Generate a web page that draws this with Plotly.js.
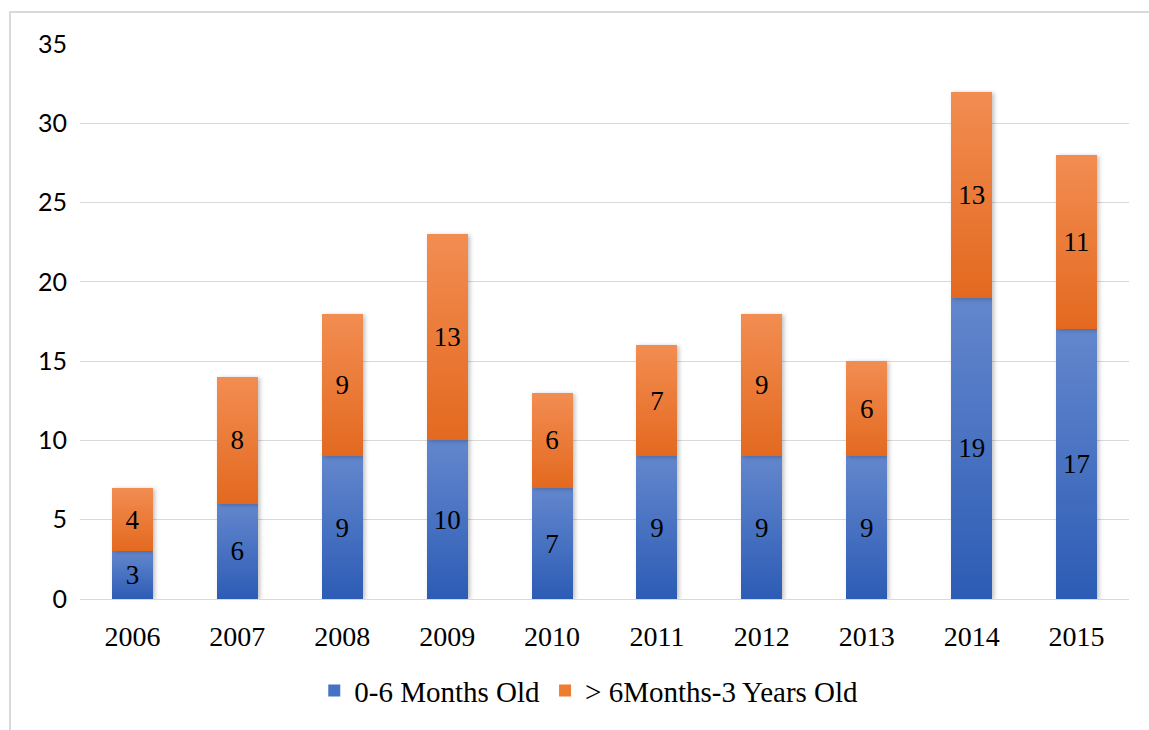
<!DOCTYPE html>
<html>
<head>
<meta charset="utf-8">
<script src="https://cdn.plot.ly/plotly-3.0.1.min.js"></script>
<style>
  html, body { margin: 0; padding: 0; background: #fff; }
  #wrap { position: relative; width: 1149px; height: 730px; }
  #chart { position: absolute; left: 0; top: 0; width: 1149px; height: 730px; }
  #frame { position: absolute; left: 9px; top: 11px; width: 1140px; height: 719px;
           border-left: 2px solid #d9d9d9; border-top: 2px solid #d9d9d9; box-sizing: border-box; pointer-events: none; }
</style>
</head>
<body>
<div id="wrap">
  <div id="chart"></div>
  <div id="frame"></div>
</div>
<script>
const years = ['2006','2007','2008','2009','2010','2011','2012','2013','2014','2015'];
const young = [3, 6, 9, 10, 7, 9, 9, 9, 19, 17];
const older = [4, 8, 9, 13, 6, 7, 9, 6, 13, 11];
const seriesNames = ['0-6 Months Old', '> 6Months-3 Years Old'];
const yTicks = [0, 5, 10, 15, 20, 25, 30, 35];

const serif = 'Liberation Serif, Times New Roman, serif';
const sans = 'Lato, Carlito, Calibri, sans-serif';

const traces = [
  {
    type: 'bar', name: seriesNames[0], x: years, y: young,
    marker: { color: '#4472C4' },
    text: young.map(String), textposition: 'inside', insidetextanchor: 'middle',
    textfont: { family: serif, size: 27, color: '#000' },
    hoverinfo: 'x+y'
  },
  {
    type: 'bar', name: seriesNames[1], x: years, y: older,
    marker: { color: '#ED7D31' },
    text: older.map(String), textposition: 'inside', insidetextanchor: 'middle',
    textfont: { family: serif, size: 27, color: '#000' },
    hoverinfo: 'x+y'
  }
];

const layout = {
  width: 1149, height: 730,
  margin: { l: 80, r: 20, t: 44, b: 131 },
  paper_bgcolor: 'rgba(0,0,0,0)', plot_bgcolor: '#fff',
  barmode: 'stack', bargap: 0.61,
  showlegend: true,
  legend: { orientation: 'h', x: 0.485, xanchor: 'center', y: -0.165, yanchor: 'middle',
            font: { family: serif, size: 29, color: '#000' }, itemwidth: 30, traceorder: 'normal' },
  xaxis: { type: 'category', tickfont: { family: serif, size: 28, color: '#000' },
           showgrid: false, showline: true, linecolor: '#d9d9d9', linewidth: 1, ticks: '',
           ticklabelstandoff: 12 },
  yaxis: { range: [0, 35], tickvals: yTicks, ticktext: yTicks.map(String),
           tickfont: { family: sans, size: 25, color: '#000' },
           showgrid: true, gridcolor: '#d9d9d9', gridwidth: 1, zeroline: false,
           showline: false, ticks: '', ticklabelstandoff: 12 },
  uniformtext: { mode: false }
};

Plotly.newPlot('chart', traces, layout, { staticPlot: true }).then(function (gd) {
  const svg = gd.querySelector('svg.main-svg');
  let defs = svg.querySelector('defs');
  const NS = 'http://www.w3.org/2000/svg';
  function grad(id, top, bot) {
    const g = document.createElementNS(NS, 'linearGradient');
    g.setAttribute('id', id);
    g.setAttribute('x1', '0'); g.setAttribute('y1', '0');
    g.setAttribute('x2', '0'); g.setAttribute('y2', '1');
    [[0, top], [1, bot]].forEach(function (s) {
      const st = document.createElementNS(NS, 'stop');
      st.setAttribute('offset', s[0]);
      st.setAttribute('stop-color', s[1]);
      g.appendChild(st);
    });
    defs.appendChild(g);
  }
  grad('gBlue', '#6387cd', '#2d5cb5');
  grad('gOrange', '#f28d52', '#e3691f');
  const tr = gd.querySelectorAll('.barlayer .trace.bars');
  const ids = ['gBlue', 'gOrange'];
  tr.forEach(function (t, i) {
    t.querySelectorAll('.point path').forEach(function (p) {
      p.style.fill = 'url(#' + ids[i] + ')';
      p.style.filter = 'drop-shadow(2px 1px 2px rgba(0,0,0,0.25))';
    });
  });
});
</script>
</body>
</html>
